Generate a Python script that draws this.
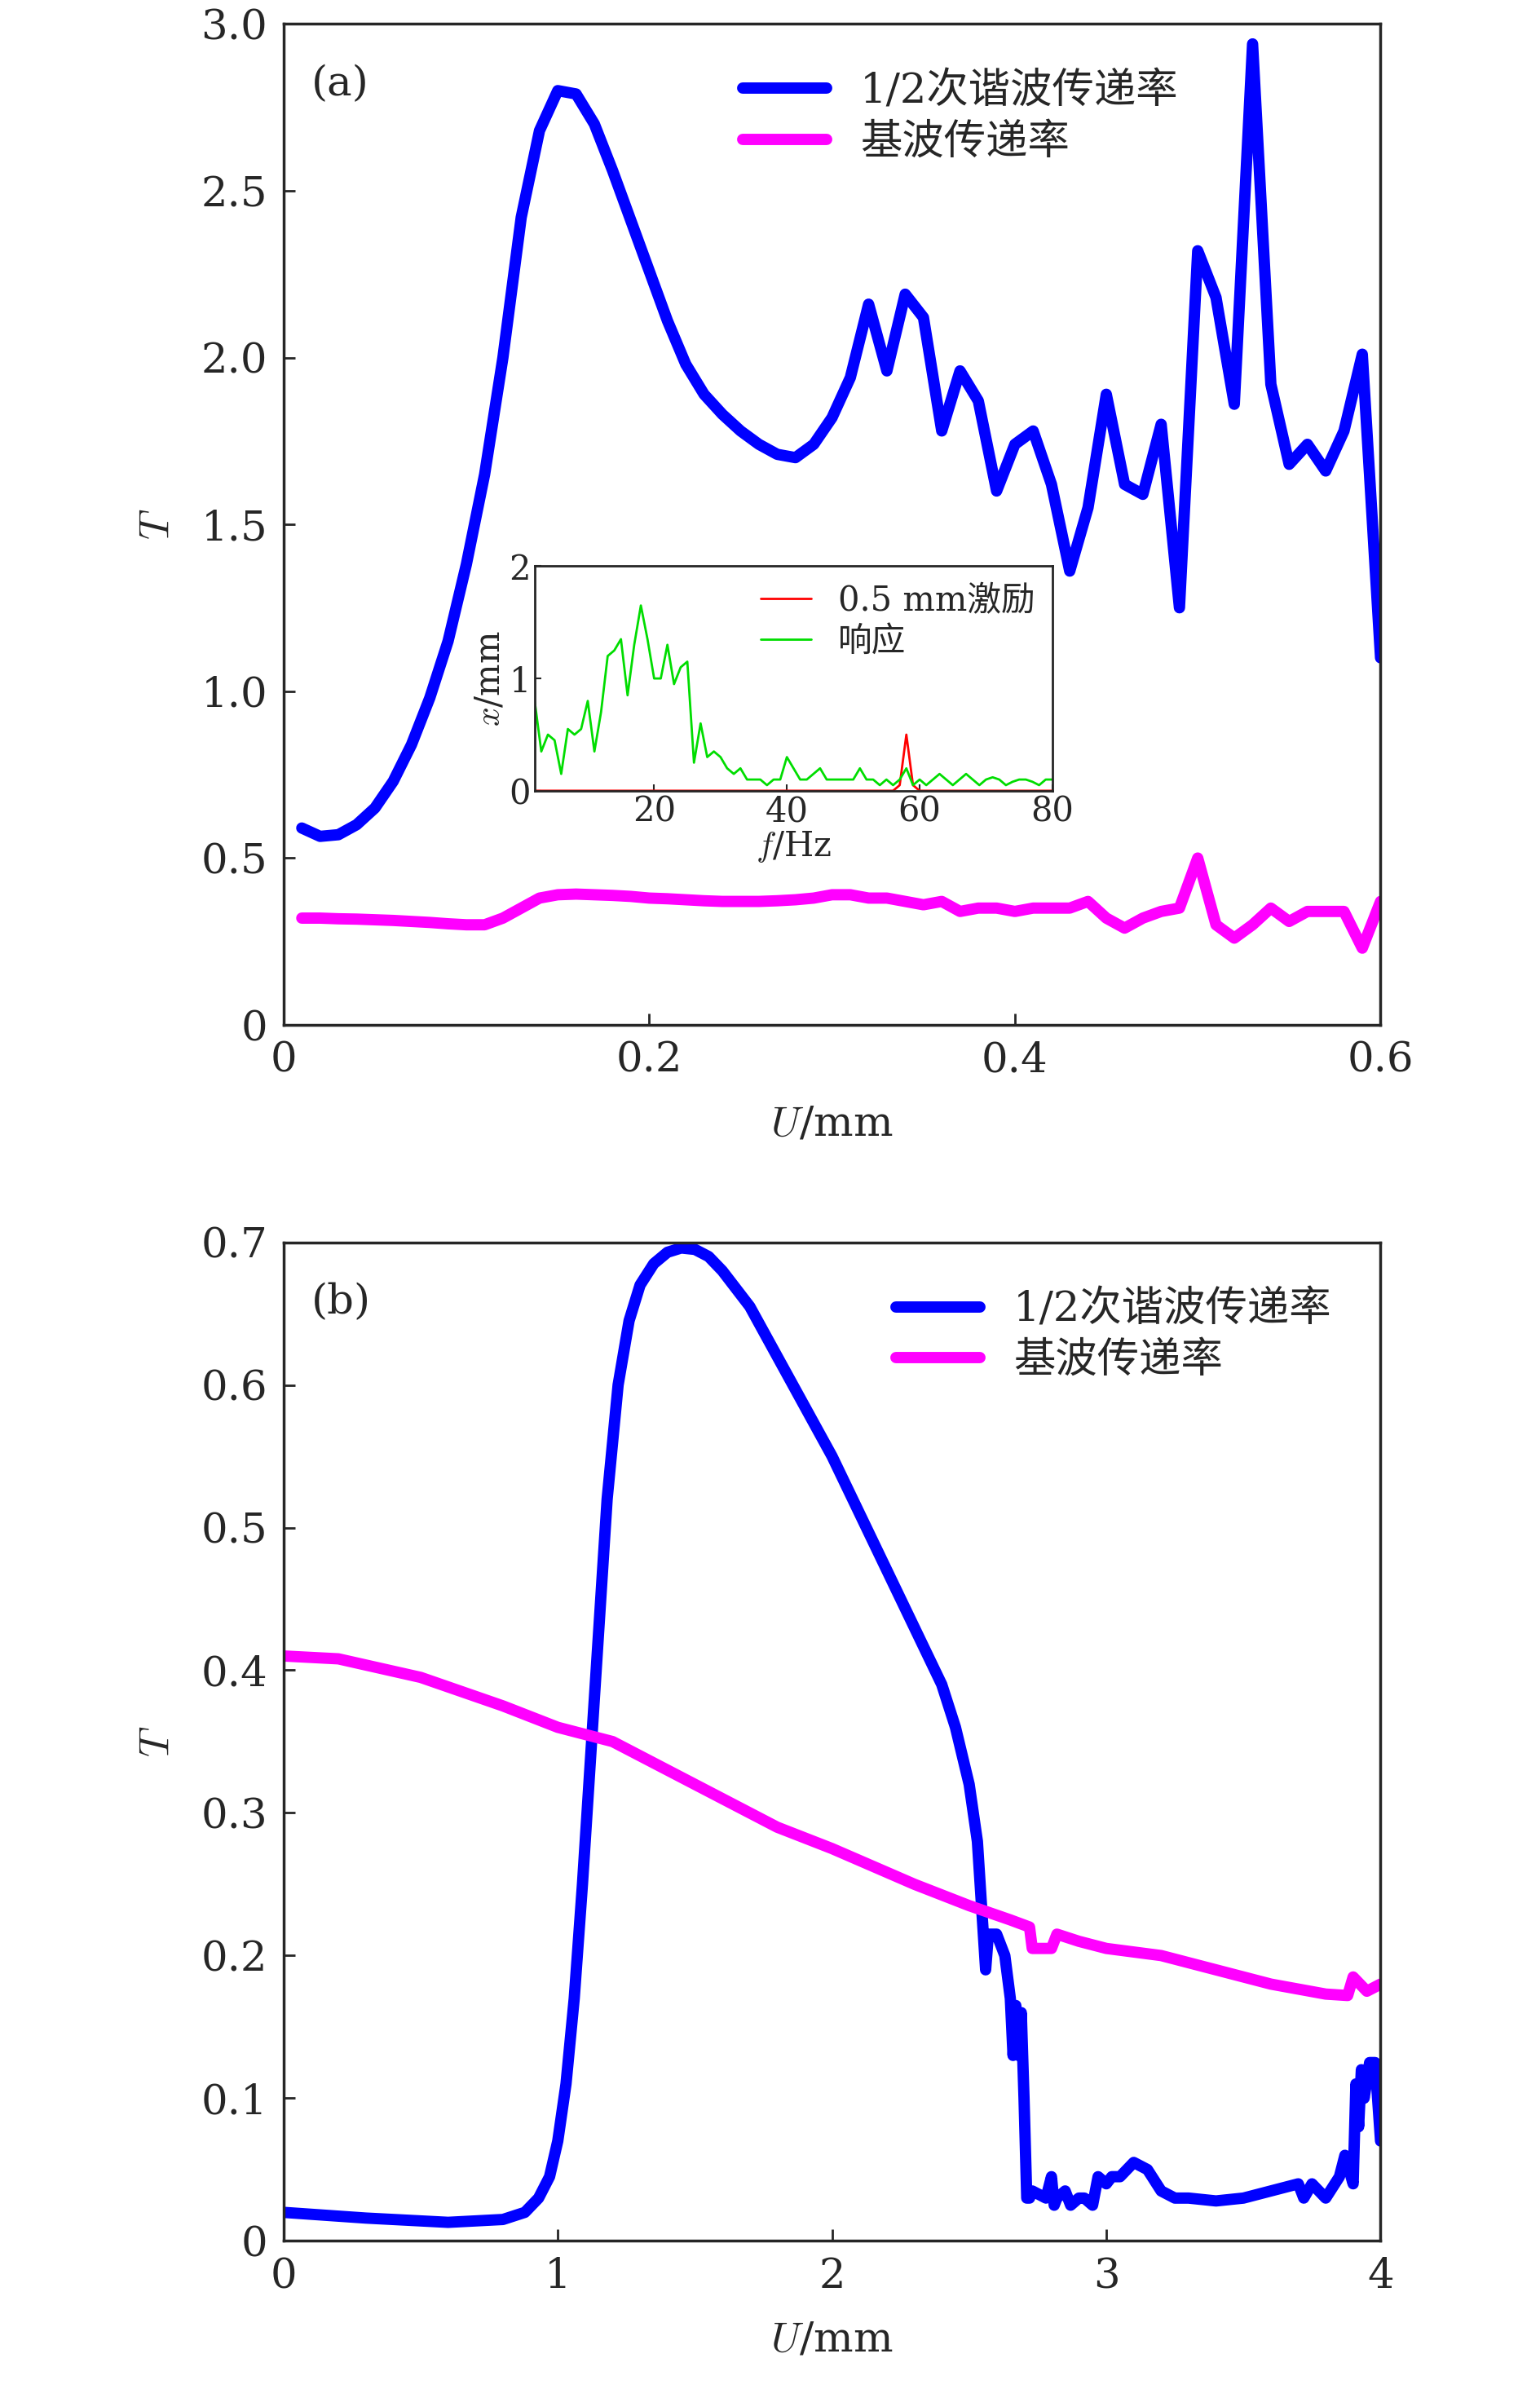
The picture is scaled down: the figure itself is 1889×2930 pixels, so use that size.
import numpy as np, pandas as pd, seaborn as sns, matplotlib
matplotlib.use("Agg")
import matplotlib.pyplot as plt

sns.set_style("ticks")
plt.rcParams['font.family'] = ['DejaVu Serif', 'Noto Sans CJK SC']
plt.rcParams['mathtext.fontset'] = 'cm'

# Panel (a)
ua = [round(0.01*i, 2) for i in range(1, 61)]
ta_half = [0.59,0.565,0.57,0.6,0.65,0.73,0.84,0.98,1.15,1.38,1.65,2.0,2.42,2.68,2.8,2.79,2.7,2.56,2.41,2.26,
           2.11,1.98,1.89,1.83,1.78,1.74,1.71,1.70,1.74,1.82,1.94,2.16,1.96,2.19,2.12,1.78,1.96,1.87,1.60,1.74,
           1.78,1.62,1.36,1.55,1.89,1.62,1.59,1.80,1.25,2.32,2.18,1.86,2.94,1.92,1.68,1.74,1.66,1.78,2.01,1.10]
ta_fund = [0.32,0.32,0.318,0.317,0.315,0.313,0.31,0.307,0.303,0.30,0.30,0.32,0.35,0.38,0.39,0.392,0.39,0.388,0.385,0.38,
           0.378,0.375,0.372,0.37,0.37,0.37,0.372,0.375,0.38,0.39,0.39,0.38,0.38,0.37,0.36,0.37,0.34,0.35,0.35,0.34,
           0.35,0.35,0.35,0.37,0.32,0.29,0.32,0.34,0.35,0.50,0.30,0.26,0.30,0.35,0.31,0.34,0.34,0.34,0.23,0.37]

# Inset
f_hz = list(range(2, 81))
x_resp = [0.8,0.35,0.5,0.45,0.15,0.55,0.5,0.55,0.8,0.35,0.7,1.2,1.25,1.35,0.85,1.3,1.65,1.35,1.0,1.0,
          1.3,0.95,1.1,1.15,0.25,0.6,0.3,0.35,0.3,0.2,0.15,0.2,0.1,0.1,0.1,0.05,0.1,0.1,0.3,0.2,
          0.1,0.1,0.15,0.2,0.1,0.1,0.1,0.1,0.1,0.2,0.1,0.1,0.05,0.1,0.05,0.1,0.2,0.05,0.1,0.05,
          0.1,0.15,0.1,0.05,0.1,0.15,0.1,0.05,0.1,0.12,0.1,0.05,0.08,0.1,0.1,0.08,0.05,0.1,0.1]
x_exc = [0.0]*79
x_exc[55] = 0.05; x_exc[56] = 0.5; x_exc[57] = 0.05

# Panel (b)
ub_half = [0,0.3,0.6,0.8,0.88,0.93,0.97,1.0,1.03,1.06,1.09,1.12,1.15,1.18,1.22,1.26,1.3,1.35,1.4,1.45,1.5,1.55,1.6,1.7,
           1.8,2.0,2.2,2.4,2.45,2.5,2.53,2.55,2.56,2.57,2.6,2.63,2.65,2.66,2.67,2.68,2.69,2.7,2.71,2.72,2.73,
           2.78,2.8,2.81,2.82,2.85,2.87,2.9,2.92,2.95,2.97,3.0,3.02,3.05,3.1,3.15,3.2,3.25,3.3,3.4,3.5,3.6,3.7,
           3.72,3.75,3.8,3.85,3.87,3.9,3.91,3.92,3.93,3.94,3.96,3.98,4.0]
tb_half = [0.02,0.016,0.013,0.015,0.02,0.03,0.045,0.07,0.11,0.17,0.25,0.34,0.43,0.52,0.6,0.645,0.67,0.685,0.693,0.696,0.695,0.69,0.68,0.655,
           0.62,0.55,0.47,0.39,0.36,0.32,0.28,0.22,0.19,0.215,0.215,0.2,0.17,0.13,0.165,0.13,0.16,0.1,0.03,0.03,0.035,
           0.03,0.045,0.025,0.03,0.035,0.025,0.03,0.03,0.025,0.045,0.04,0.045,0.045,0.055,0.05,0.035,0.03,0.03,0.028,0.03,0.035,0.04,
           0.03,0.04,0.03,0.045,0.06,0.04,0.11,0.08,0.12,0.1,0.125,0.125,0.07]
ub_fund = [0,0.2,0.5,0.8,1.0,1.2,1.5,1.8,2.0,2.3,2.5,2.65,2.72,2.73,2.8,2.82,2.9,3.0,3.2,3.4,3.6,3.8,3.88,3.9,3.95,4.0]
tb_fund = [0.41,0.408,0.395,0.375,0.36,0.35,0.32,0.29,0.275,0.25,0.235,0.225,0.22,0.205,0.205,0.215,0.21,0.205,0.2,0.19,0.18,0.173,0.172,0.185,0.175,0.18]

lab_half = '1/2次谐波传递率'
lab_fund = '基波传递率'
BLUE, MAG = '#0000ff', '#ff00ff'
FS = 37

fig = plt.figure(figsize=(18.9, 29.3), dpi=100)
axa = fig.add_axes([0.184, 0.571, 0.712, 0.419])
axb = fig.add_axes([0.184, 0.062, 0.712, 0.418])
axi = fig.add_axes([0.347, 0.669, 0.336, 0.094])

sns.lineplot(x=ua, y=ta_half, ax=axa, color=BLUE, lw=10, label=lab_half)
sns.lineplot(x=ua, y=ta_fund, ax=axa, color=MAG, lw=10, label=lab_fund)
axa.set_xlim(0, 0.6); axa.set_ylim(0, 3.0)
axa.set_xticks([0, 0.2, 0.4, 0.6]); axa.set_xticklabels(['0', '0.2', '0.4', '0.6'])
axa.set_yticks(np.arange(0, 3.01, 0.5)); axa.set_yticklabels(['0', '0.5', '1.0', '1.5', '2.0', '2.5', '3.0'])
axa.set_xlabel('$U$/mm', fontsize=FS, labelpad=20); axa.set_ylabel('$T$', fontsize=FS, labelpad=20)
axa.text(0.025, 0.96, '(a)', transform=axa.transAxes, fontsize=FS, va='top')

sns.lineplot(x=ub_half, y=tb_half, ax=axb, color=BLUE, lw=10, label=lab_half)
sns.lineplot(x=ub_fund, y=tb_fund, ax=axb, color=MAG, lw=10, label=lab_fund)
axb.set_xlim(0, 4); axb.set_ylim(0, 0.7)
axb.set_xticks([0, 1, 2, 3, 4])
axb.set_yticks(np.arange(0, 0.71, 0.1)); axb.set_yticklabels(['0'] + [f'{v:.1f}' for v in np.arange(0.1, 0.71, 0.1)])
axb.set_xlabel('$U$/mm', fontsize=FS, labelpad=20); axb.set_ylabel('$T$', fontsize=FS, labelpad=20)
axb.text(0.025, 0.96, '(b)', transform=axb.transAxes, fontsize=FS, va='top')

for ax, anchor in ((axa, (0.85, 0.99)), (axb, (0.99, 0.99))):
    ax.tick_params(direction='in', labelsize=FS, length=10, width=2, pad=14)
    for s in ax.spines.values(): s.set_linewidth(2.5)
    ax.legend(loc='upper right', fontsize=FS, frameon=False, handlelength=2.0, bbox_to_anchor=anchor, labelspacing=0.25)

sns.lineplot(x=f_hz, y=x_exc, ax=axi, color='#ff0000', lw=2, label='0.5 mm激励')
sns.lineplot(x=f_hz, y=x_resp, ax=axi, color='#00dd00', lw=2, label='响应')
axi.set_xlim(2, 80); axi.set_ylim(0, 2)
axi.set_xticks([20, 40, 60, 80]); axi.set_yticks([0, 1, 2])
axi.tick_params(direction='in', labelsize=30, length=6, width=1.5)
for s in axi.spines.values(): s.set_linewidth(2)
axi.set_xlabel('$f$/Hz', fontsize=30, labelpad=0); axi.set_ylabel('$x$/mm', fontsize=30, labelpad=2)
axi.legend(loc='upper right', fontsize=30, frameon=False, handlelength=1.5, borderaxespad=0.1, labelspacing=0.2)

fig.savefig('out.png', dpi=100)
